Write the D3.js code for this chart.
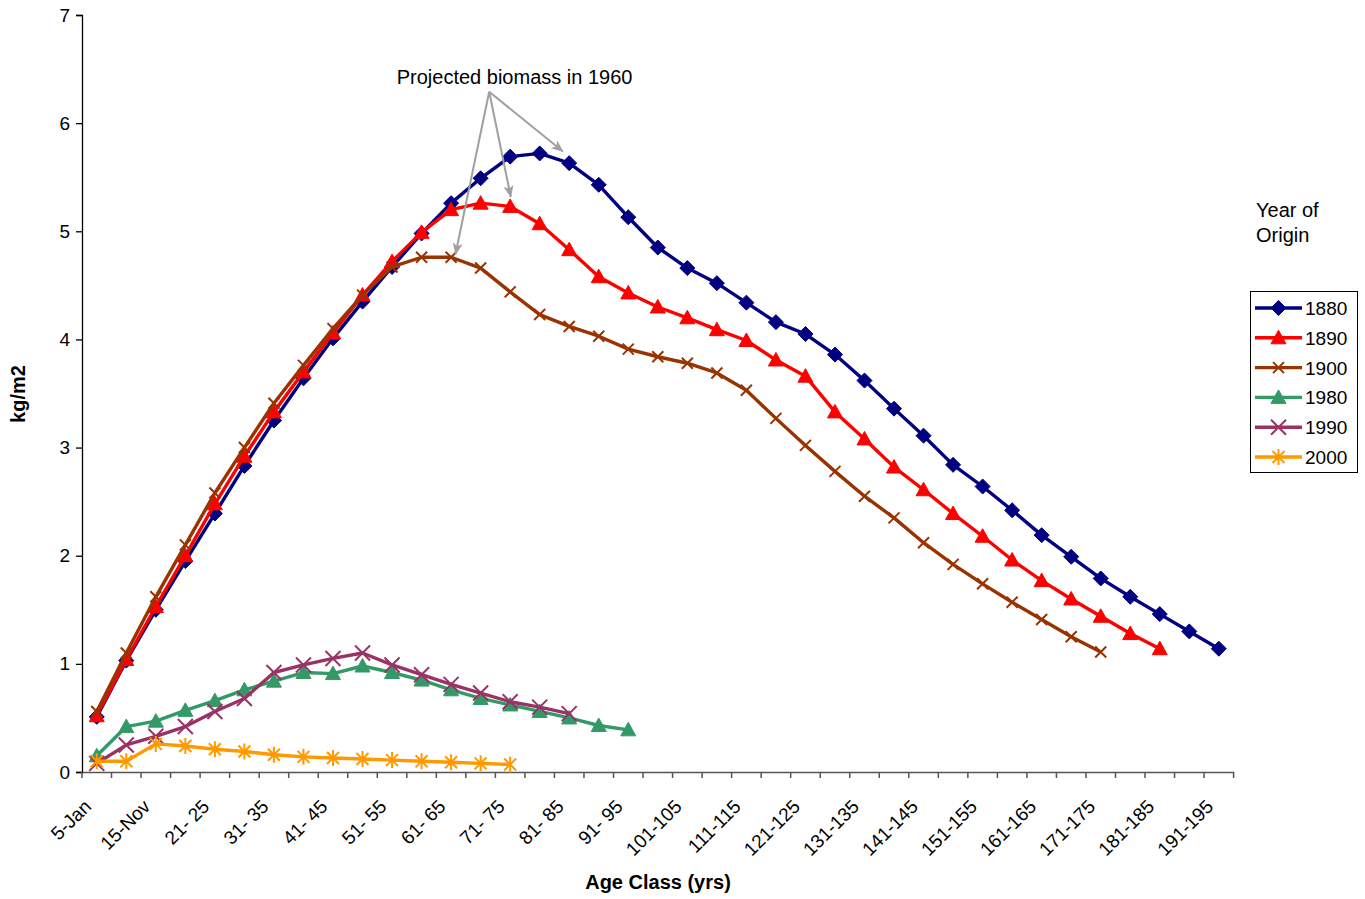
<!DOCTYPE html>
<html><head><meta charset="utf-8">
<script src="https://cdn.jsdelivr.net/npm/d3@7"></script>
<style>body{margin:0;background:#fff} svg{display:block} text{font-family:"Liberation Sans",Arial,sans-serif;fill:#000}</style>
</head><body><svg id="c" width="1365" height="899"></svg>
<script>
const categories = ["5-Jan","10-Jun","15-Nov","16-20","21- 25","26- 30","31- 35","36- 40","41- 45","46- 50",
  "51- 55","56- 60","61- 65","66- 70","71- 75","76- 80","81- 85","86- 90","91- 95","96-100",
  "101-105","106-110","111-115","116-120","121-125","126-130","131-135","136-140","141-145","146-150",
  "151-155","156-160","161-165","166-170","171-175","176-180","181-185","186-190","191-195"];
const yTicks = [0,1,2,3,4,5,6,7];
const seriesNames = ["1880","1890","1900","1980","1990","2000"];
const s1880 = [0.51,1.03,1.50,1.95,2.39,2.83,3.25,3.64,4.01,4.35,4.67,4.98,5.26,5.49,5.69,5.72,5.63,5.43,5.13,4.85,4.66,4.52,4.34,4.16,4.05,3.86,3.62,3.36,3.11,2.84,2.64,2.42,2.19,1.99,1.79,1.62,1.46,1.30,1.14];
const s1890 = [0.52,1.04,1.53,2.00,2.48,2.92,3.33,3.70,4.06,4.41,4.72,4.99,5.20,5.26,5.23,5.07,4.83,4.58,4.43,4.30,4.20,4.09,3.99,3.81,3.66,3.33,3.08,2.82,2.61,2.39,2.18,1.96,1.77,1.60,1.44,1.28,1.14];
const s1900 = [0.56,1.10,1.62,2.10,2.58,3.00,3.41,3.76,4.10,4.41,4.67,4.76,4.76,4.66,4.44,4.23,4.12,4.03,3.91,3.84,3.78,3.69,3.53,3.27,3.02,2.78,2.55,2.35,2.12,1.92,1.74,1.57,1.41,1.25,1.11];
const s1980 = [0.15,0.42,0.47,0.57,0.66,0.76,0.84,0.92,0.91,0.98,0.92,0.85,0.76,0.68,0.62,0.56,0.50,0.43,0.39];
const s1990 = [0.08,0.25,0.33,0.42,0.56,0.68,0.92,0.99,1.05,1.10,0.99,0.90,0.81,0.73,0.65,0.60,0.54];
const s2000 = [0.10,0.10,0.26,0.24,0.21,0.19,0.16,0.14,0.13,0.12,0.11,0.10,0.09,0.08,0.07];
const seriesValues = [s1880,s1890,s1900,s1980,s1990,s2000];
const annotationText = "Projected biomass in 1960";
// annotation anchor positions in data units (category index, value)
const annoLabel = [14.15, 6.36];
const annoOrigin = [13.29, 6.29];
const annoTips = [[15.78, 5.74],[14.02, 5.32],[12.15, 4.79]];

const colors = ["#000080","#FF0000","#993300","#339966","#993366","#FF9900"];
const shapes = ["diamond","triangle","xsmall","triangle","xbig","star"];

const svg = d3.select("#c");
const x = d3.scaleBand().domain(categories).range([82, 1233.6]).padding(0);
const y = d3.scaleLinear().domain([0,7]).range([772, 15]);
const cx = i => x(categories[0]) + i * x.step() + x.bandwidth()/2;

// axes
const yAxis = d3.axisLeft(y).tickValues(yTicks).tickSize(6).tickPadding(6).tickFormat(d3.format("d"));
const gy = svg.append("g").attr("transform","translate(82,0)").call(yAxis);
gy.select(".domain").attr("stroke","#000").attr("stroke-width",1.3);
gy.selectAll(".tick line").attr("stroke","#000").attr("stroke-width",1.3);
gy.selectAll("text").attr("font-size",19).attr("font-family","Liberation Sans, Arial, sans-serif");

const xAxis = d3.axisBottom(x).tickSize(0).tickFormat((d,i)=> i%2===0 ? d : "");
const gx = svg.append("g").attr("transform","translate(0,772)").call(xAxis);
gx.select(".domain").attr("stroke","#555").attr("stroke-width",1.5);
gx.selectAll(".tick text")
  .attr("font-size",19).attr("font-family","Liberation Sans, Arial, sans-serif")
  .attr("text-anchor","end")
  .attr("transform","translate(-9,31) rotate(-45)")
  .attr("dy","0.35em").attr("y",0);
// x tick marks at band boundaries
const bounds = d3.range(categories.length+1).map(i => x(categories[0]) + i*x.step());
gx.selectAll("line.bt").data(bounds).enter().append("line").attr("class","bt")
  .attr("x1",d=>d).attr("x2",d=>d).attr("y1",0).attr("y2",6).attr("stroke","#555").attr("stroke-width",1.5);

// axis titles
svg.append("text").attr("x",658).attr("y",889).attr("text-anchor","middle")
  .attr("font-size",20).attr("font-weight","bold").text("Age Class (yrs)");
svg.append("text").attr("transform","translate(25,394) rotate(-90)").attr("text-anchor","middle")
  .attr("font-size",20).attr("font-weight","bold").text("kg/m2");

function markerPath(shape){
  switch(shape){
    case "diamond": return "M0,-7.5L7.5,0L0,7.5L-7.5,0Z";
    case "triangle": return "M0,-7.5L7.5,6L-7.5,6Z";
    case "xsmall": return "M-5.5,-5.5L5.5,5.5M-5.5,5.5L5.5,-5.5";
    case "xbig": return "M-7.5,-7.5L7.5,7.5M-7.5,7.5L7.5,-7.5";
    case "star": return "M-6,-6L6,6M-6,6L6,-6M0,-8L0,8";
  }
}
function drawMarker(g, shape, color){
  const filled = shape==="diamond"||shape==="triangle";
  g.append("path").attr("d",markerPath(shape))
   .attr("fill", filled?color:"none").attr("stroke",color)
   .attr("stroke-width", filled?1:2);
}

const line = d3.line().x((d,i)=>cx(i)).y(d=>y(d));
seriesValues.forEach((vals,k)=>{
  const g = svg.append("g");
  g.append("path").datum(vals).attr("d",line).attr("fill","none")
    .attr("stroke",colors[k]).attr("stroke-width",3.4).attr("stroke-linejoin","round");
  vals.forEach((v,i)=>{
    const m = g.append("g").attr("transform",`translate(${cx(i)},${y(v)})`);
    drawMarker(m, shapes[k], colors[k]);
  });
});

// annotation
const defs = svg.append("defs");
defs.append("marker").attr("id","ah").attr("markerUnits","userSpaceOnUse")
  .attr("markerWidth",12).attr("markerHeight",10).attr("refX",11).attr("refY",5)
  .attr("orient","auto").append("path").attr("d","M0,0L12,5L0,10L3,5Z").attr("fill","#A0A0A0");
svg.append("text").attr("x",cx(annoLabel[0])).attr("y",y(annoLabel[1])).attr("text-anchor","middle")
  .attr("font-size",20).text(annotationText);
annoTips.forEach(t=>{
  svg.append("line").attr("x1",cx(annoOrigin[0])).attr("y1",y(annoOrigin[1]))
    .attr("x2",cx(t[0])).attr("y2",y(t[1])).attr("stroke","#A0A0A0").attr("stroke-width",2)
    .attr("marker-end","url(#ah)");
});

// legend
svg.append("text").attr("x",1256).attr("y",217).attr("font-size",20).text("Year of");
svg.append("text").attr("x",1256).attr("y",242).attr("font-size",20).text("Origin");
const lg = svg.append("g");
lg.append("rect").attr("x",1250.5).attr("y",291.5).attr("width",107).attr("height",181)
  .attr("fill","#fff").attr("stroke","#000").attr("stroke-width",1);
seriesNames.forEach((n,k)=>{
  const yy = 308 + k*29.8;
  lg.append("line").attr("x1",1255).attr("x2",1302).attr("y1",yy).attr("y2",yy)
    .attr("stroke",colors[k]).attr("stroke-width",3.4);
  const m = lg.append("g").attr("transform",`translate(1278.5,${yy})`);
  drawMarker(m, shapes[k], colors[k]);
  lg.append("text").attr("x",1305).attr("y",yy+7).attr("font-size",19).text(n);
});
</script></body></html>
